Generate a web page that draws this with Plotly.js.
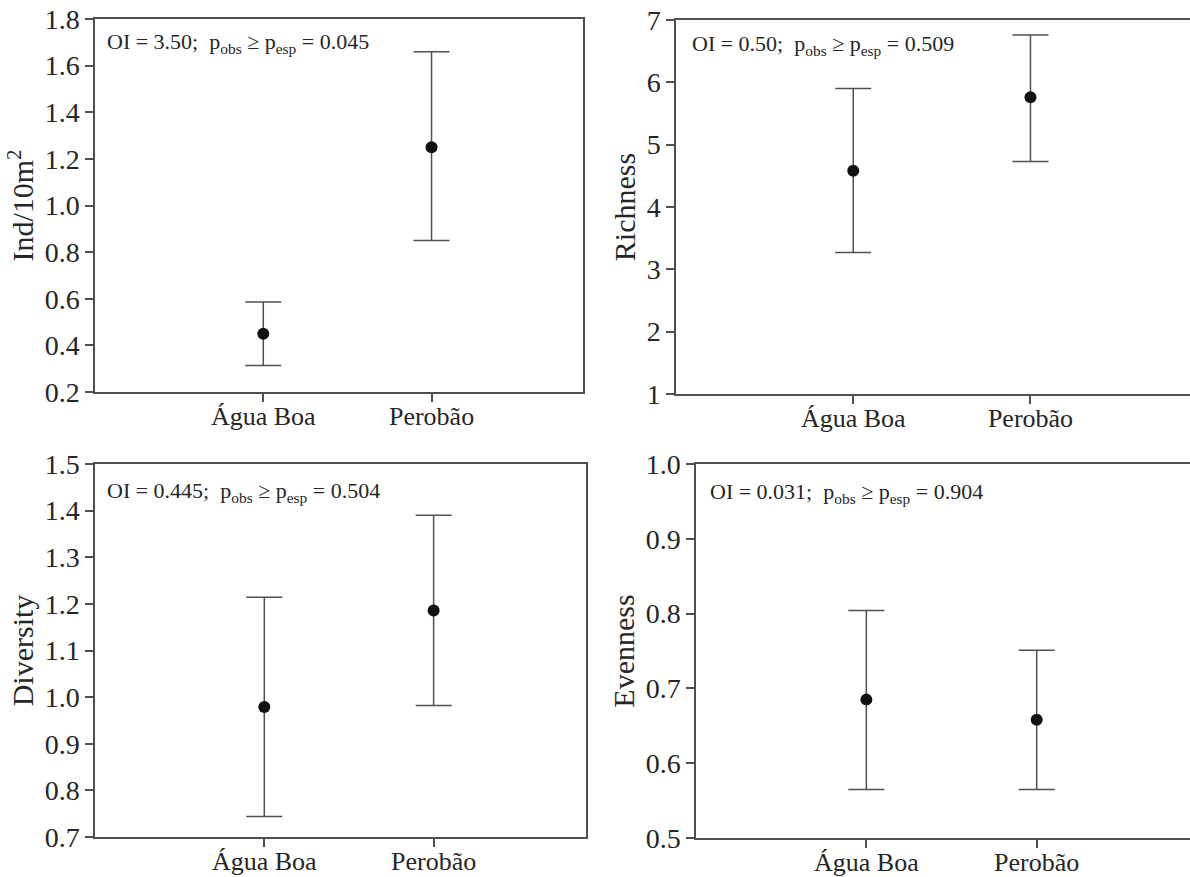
<!DOCTYPE html>
<html>
<head>
<meta charset="utf-8">
<script src="https://cdn.plot.ly/plotly-3.0.1.min.js"></script>
<style>
html,body{margin:0;padding:0;background:#fff;}
#chart{width:1190px;height:877px;}
</style>
</head>
<body>
<div id="chart"></div>
<script>
// ---- data ----
const categories = ['Água Boa', 'Perobão'];

const densityMean  = [0.45, 1.25];
const densityUpper = [0.586, 1.66];
const densityLower = [0.314, 0.85];

const richnessMean  = [4.58, 5.76];
const richnessUpper = [5.90, 6.76];
const richnessLower = [3.27, 4.73];

const diversityMean  = [0.979, 1.186];
const diversityUpper = [1.214, 1.390];
const diversityLower = [0.744, 0.982];

const evennessMean  = [0.685, 0.658];
const evennessUpper = [0.804, 0.751];
const evennessLower = [0.565, 0.565];

const yTitles = ['Ind/10m<sup>2</sup>', 'Richness', 'Diversity', 'Evenness'];
const statLabels = [
  'OI = 3.50;&nbsp; p<sub>obs</sub> ≥ p<sub>esp</sub> = 0.045',
  'OI = 0.50;&nbsp; p<sub>obs</sub> ≥ p<sub>esp</sub> = 0.509',
  'OI = 0.445;&nbsp; p<sub>obs</sub> ≥ p<sub>esp</sub> = 0.504',
  'OI = 0.031;&nbsp; p<sub>obs</sub> ≥ p<sub>esp</sub> = 0.904'
];
const yRanges = [[0.2, 1.8], [1, 7], [0.7, 1.5], [0.5, 1.0]];
const yDticks = [0.2, 1, 0.1, 0.1];

// ---- layout constants ----
const W = 1190, H = 877;
const LINE = '#505050';
const TEXT = '#262626';
const FONT = '"Liberation Serif", "Times New Roman", serif';
// pixel boxes [left, right, top, bottom]
const boxes = [
  [95, 583, 19, 392],
  [676, 1190, 20, 394],
  [95, 586, 464, 837],
  [696, 1190, 464, 838]
];
const annPos = [[0.02, 0.936], [0.027, 0.933], [0.02, 0.925], [0.024, 0.922]];
const titleStandoff = [2, 2, 2, 2];
const fullBox = [true, false, true, false];

const series = [
  [densityMean, densityUpper, densityLower],
  [richnessMean, richnessUpper, richnessLower],
  [diversityMean, diversityUpper, diversityLower],
  [evennessMean, evennessUpper, evennessLower]
];

const traces = [];
const layout = {
  width: W, height: H,
  margin: {l: 0, r: 0, t: 0, b: 0},
  paper_bgcolor: '#fff', plot_bgcolor: '#fff',
  showlegend: false,
  font: {family: FONT, color: TEXT, size: 26},
  annotations: []
};

series.forEach((s, i) => {
  const [mean, up, lo] = s;
  const n = i + 1;
  const xa = n === 1 ? 'x' : 'x' + n;
  const ya = n === 1 ? 'y' : 'y' + n;
  traces.push({
    type: 'scatter', mode: 'markers',
    x: categories, y: mean,
    xaxis: xa, yaxis: ya,
    marker: {color: '#111', size: 12},
    error_y: {
      type: 'data', symmetric: false,
      array: mean.map((m, k) => up[k] - m),
      arrayminus: mean.map((m, k) => m - lo[k]),
      color: LINE, thickness: 1.5, width: 18
    },
    hoverinfo: 'x+y'
  });
  const b = boxes[i];
  layout['xaxis' + (n === 1 ? '' : n)] = {
    domain: [b[0] / W, b[1] / W],
    anchor: ya,
    type: 'category',
    range: [-1, 1.9],
    showline: true, linecolor: LINE, linewidth: 1.5,
    mirror: true,
    ticks: 'outside', ticklen: 8, tickwidth: 1.5, tickcolor: LINE,
    ticklabelstandoff: -8,
    showgrid: false, zeroline: false,
    tickfont: {family: FONT, size: 26, color: TEXT},
    fixedrange: true
  };
  layout['yaxis' + (n === 1 ? '' : n)] = {
    domain: [1 - b[3] / H, 1 - b[2] / H],
    anchor: xa,
    range: yRanges[i],
    dtick: yDticks[i], tick0: yRanges[i][0],
    tickformat: yDticks[i] < 1 ? '.1f' : 'd',
    showline: true, linecolor: LINE, linewidth: 1.5,
    mirror: fullBox[i],
    ticks: 'outside', ticklen: 8, tickwidth: 1.5, tickcolor: LINE,
    showgrid: false, zeroline: false,
    tickfont: {family: FONT, size: 28, color: TEXT},
    title: {text: yTitles[i], font: {family: FONT, size: 30, color: TEXT}, standoff: titleStandoff[i]},
    automargin: false,
    fixedrange: true
  };
  layout.annotations.push({
    xref: xa + ' domain', yref: ya + ' domain',
    x: annPos[i][0], y: annPos[i][1],
    xanchor: 'left', yanchor: 'middle',
    text: statLabels[i], showarrow: false,
    font: {family: FONT, size: 22, color: TEXT}
  });
});

Plotly.newPlot('chart', traces, layout, {displayModeBar: false});
</script>
</body>
</html>
